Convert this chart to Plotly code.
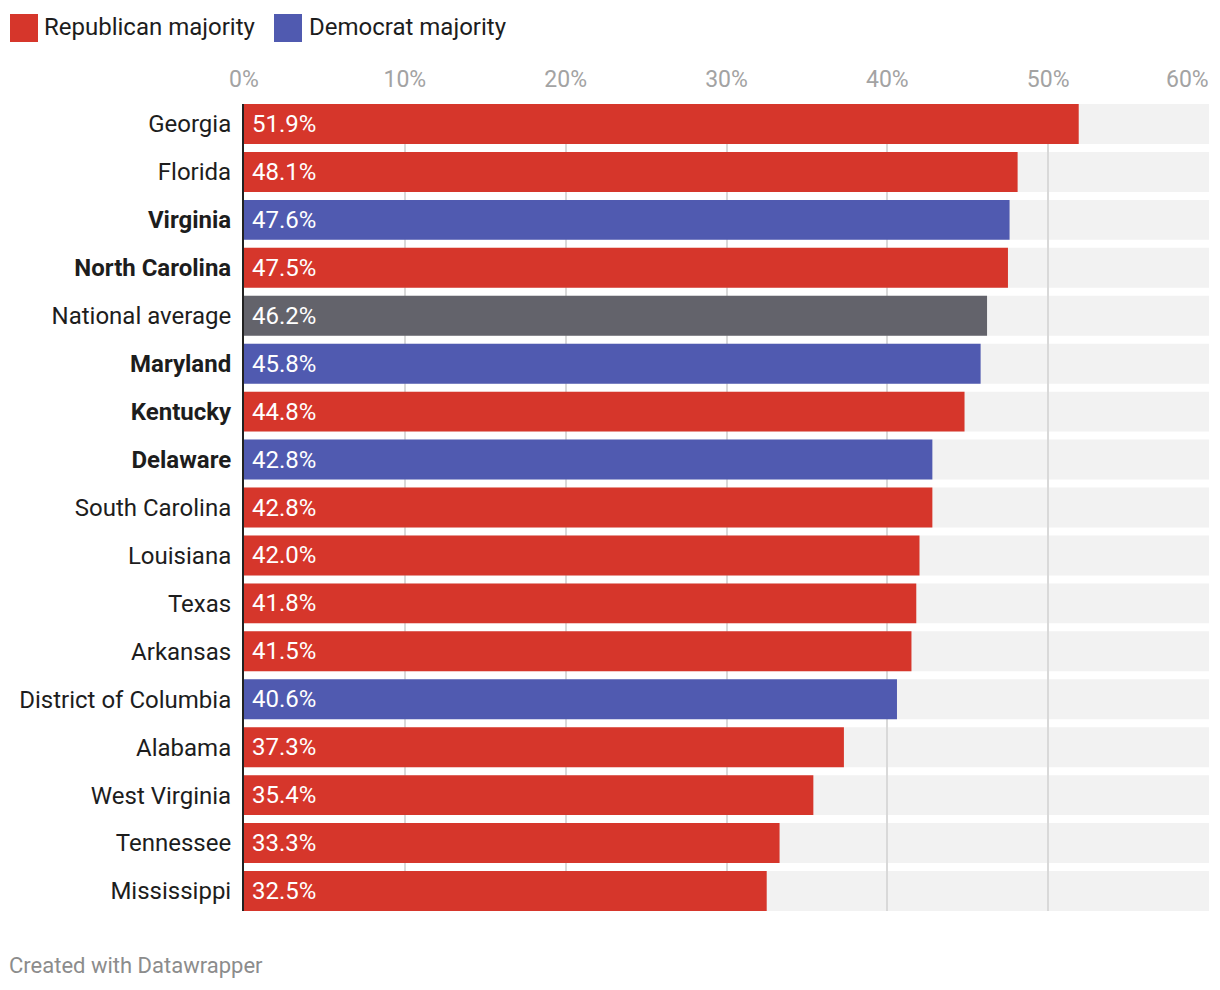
import plotly.graph_objects as go

# ---------------- data ----------------
states = ["Georgia", "Florida", "Virginia", "North Carolina", "National average",
          "Maryland", "Kentucky", "Delaware", "South Carolina", "Louisiana", "Texas",
          "Arkansas", "District of Columbia", "Alabama", "West Virginia", "Tennessee",
          "Mississippi"]
values = [51.9, 48.1, 47.6, 47.5, 46.2, 45.8, 44.8, 42.8, 42.8, 42.0, 41.8,
          41.5, 40.6, 37.3, 35.4, 33.3, 32.5]
majority = ["R", "R", "D", "R", "N", "D", "R", "D", "R", "R", "R",
            "R", "D", "R", "R", "R", "R"]
bold_states = ["Virginia", "North Carolina", "Maryland", "Kentucky", "Delaware"]
x_ticks = [0, 10, 20, 30, 40, 50, 60]
x_tick_labels = ["0%", "10%", "20%", "30%", "40%", "50%", "60%"]
legend_names = ["Republican majority", "Democrat majority"]

# ---------------- style ----------------
OFF = 8  # page body margin
W, H = 1220 - OFF, 990 - OFF
ML, MT = 244 - OFF, 104 - OFF
MR = W - (1209 - OFF)
MB = H - (911 - OFF)
PW, PH = W - ML - MR, H - MT - MB
FONT = "Roboto"
COLORS = {"R": "#d6362b", "D": "#505ab0", "N": "#63636b"}
BG_BAR = "#f2f2f2"
BAR_W = 0.834
X_MAX = 60


def px_x(p):
    return (p - OFF - ML) / PW


def px_y(p):
    return (H - MB - (p - OFF)) / PH


n = len(states)
ypos = list(range(n))
ticktext = [f"<b>{s}</b>" if s in bold_states else s for s in states]

fig = go.Figure()

fig.add_trace(go.Bar(
    x=values, y=ypos, orientation="h", width=BAR_W,
    marker=dict(color=[COLORS[m] for m in majority], line=dict(width=0)),
    hoverinfo="skip", showlegend=False,
))

shapes = []
# background bars (below gridlines)
for i in ypos:
    shapes.append(dict(type="rect", xref="x", yref="y", x0=0, x1=X_MAX,
                       y0=i - BAR_W / 2, y1=i + BAR_W / 2,
                       fillcolor=BG_BAR, line=dict(width=0), layer="below"))

annotations = []
# value labels inside bars
for i, v in zip(ypos, values):
    annotations.append(dict(x=0, y=i, xref="x", yref="y", text=f"{v:.1f}%",
                            showarrow=False, xanchor="left", yanchor="middle",
                            xshift=6, font=dict(family=FONT, size=24, color="white")))

# last tick label right-aligned
annotations.append(dict(x=X_MAX, y=px_y(80), xref="x", yref="paper",
                        text=x_tick_labels[-1], showarrow=False, xanchor="right",
                        yanchor="middle", xshift=2,
                        font=dict(family=FONT, size=23, color="#a3a3a3")))

# legend
leg_x = [(10, 45), (274, 310)]
for name, key, (sx, tx) in zip(legend_names, ["R", "D"], leg_x):
    shapes.append(dict(type="rect", xref="paper", yref="paper",
                       x0=px_x(sx), x1=px_x(sx + 28), y0=px_y(42), y1=px_y(14),
                       fillcolor=COLORS[key], line=dict(width=0)))
    annotations.append(dict(x=px_x(tx - 3), y=px_y(27), xref="paper", yref="paper",
                            text=name, showarrow=False, xanchor="left", yanchor="middle",
                            font=dict(family=FONT, size=24, color="#1d1d1d")))

# footer
annotations.append(dict(x=px_x(7), y=px_y(965), xref="paper", yref="paper",
                        text="Created with Datawrapper", showarrow=False,
                        xanchor="left", yanchor="middle",
                        font=dict(family=FONT, size=22, color="#8c8c8c")))

fig.update_layout(
    width=W, height=H,
    margin=dict(l=ML, r=MR, t=MT, b=MB, autoexpand=False),
    paper_bgcolor="white", plot_bgcolor="white",
    barmode="overlay",
    font=dict(family=FONT),
    shapes=shapes, annotations=annotations,
    xaxis=dict(range=[0, X_MAX], side="top", tickvals=x_ticks,
               ticktext=x_tick_labels[:-1] + [""],
               showgrid=True, gridcolor="#d9d9d9", gridwidth=1.5,
               zeroline=False, showline=False, ticks="",
               ticklabelstandoff=11,
               tickfont=dict(family=FONT, size=23, color="#a3a3a3"),
               fixedrange=True),
    yaxis=dict(range=[n - 1 + BAR_W / 2, -BAR_W / 2], tickvals=ypos, ticktext=ticktext,
               showgrid=False, zeroline=False, showline=True, linecolor="#222222",
               linewidth=2, ticks="", ticklabelstandoff=6,
               tickfont=dict(family=FONT, size=24, color="#1d1d1d"),
               fixedrange=True),
    showlegend=False,
)

fig.write_html("out.html")
